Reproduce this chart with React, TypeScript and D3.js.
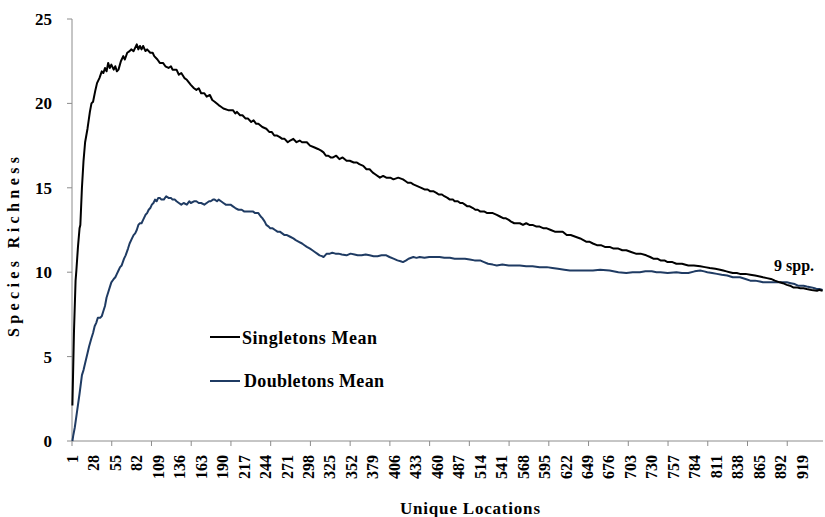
import React from "react";
import * as d3 from "d3";

// Number of unique-location categories on the x axis
const N_LOCATIONS = 945;
const xLabelStep = 27; // labels: 1, 28, 55, ...
const xTickStep = 50; // tick marks
const yTicks = [0, 5, 10, 15, 20, 25];

// [location index, mean species richness]
const singletons: [number, number][] = [
  [1, 2.1], [3, 6.5], [5, 9.5], [6, 10.1], [8, 11.5], [10, 12.6], [11, 12.8], [13, 15.0], [15, 16.6], [17, 17.7],
  [20, 18.5], [23, 19.5], [25, 20.0], [27, 20.1], [30, 20.8], [32, 21.2], [35, 21.5], [38, 21.9], [40, 21.8],
  [42, 22.1], [44, 21.9], [46, 22.4], [48, 22.1], [50, 22.3], [53, 22.0], [55, 22.2], [57, 21.9], [59, 22.0],
  [62, 22.5], [65, 22.8], [67, 22.6], [70, 23.0], [73, 23.1], [75, 23.2], [78, 23.1], [82, 23.5], [84, 23.2],
  [86, 23.4], [88, 23.2], [90, 23.4], [93, 23.1], [95, 23.2], [99, 23.0], [102, 23.0], [104, 22.8], [108, 22.6],
  [111, 22.4], [115, 22.4], [118, 22.2], [122, 22.1], [125, 22.2], [127, 22.0], [132, 22.0], [135, 21.7],
  [138, 21.8], [142, 21.5], [145, 21.4], [150, 21.1], [154, 20.9], [157, 20.8], [160, 20.9], [163, 20.6],
  [167, 20.6], [170, 20.4], [174, 20.5], [177, 20.2], [180, 20.1], [185, 19.9], [188, 19.8], [191, 19.7],
  [197, 19.6], [203, 19.6], [206, 19.4], [208, 19.5], [212, 19.3], [215, 19.3], [219, 19.1], [222, 19.1],
  [226, 18.9], [229, 19.0], [232, 18.8], [235, 18.8], [240, 18.6], [245, 18.5], [249, 18.3], [252, 18.3],
  [255, 18.1], [258, 18.1], [262, 18.0], [265, 17.9], [268, 17.9], [272, 17.7], [275, 17.8], [279, 17.9],
  [283, 17.7], [287, 17.8], [290, 17.7], [296, 17.7], [300, 17.5], [305, 17.4], [310, 17.3], [314, 17.2],
  [317, 17.1], [320, 16.9], [323, 16.9], [326, 16.8], [329, 16.8], [333, 16.9], [337, 16.7], [341, 16.8],
  [346, 16.6], [350, 16.6], [355, 16.5], [359, 16.5], [362, 16.4], [367, 16.3], [371, 16.1], [375, 16.1],
  [379, 15.9], [382, 15.8], [388, 15.6], [392, 15.7], [396, 15.6], [401, 15.6], [405, 15.5], [411, 15.6],
  [417, 15.5], [420, 15.4], [423, 15.3], [427, 15.3], [430, 15.2], [435, 15.1], [440, 15.0], [444, 14.9],
  [448, 14.9], [451, 14.8], [455, 14.8], [459, 14.7], [462, 14.6], [466, 14.6], [469, 14.5], [473, 14.4],
  [476, 14.3], [480, 14.3], [482, 14.2], [486, 14.2], [489, 14.1], [492, 14.1], [495, 14.0], [498, 13.9],
  [501, 13.9], [505, 13.8], [508, 13.7], [511, 13.7], [514, 13.6], [519, 13.6], [523, 13.5], [527, 13.5],
  [530, 13.5], [535, 13.4], [539, 13.3], [543, 13.2], [546, 13.2], [550, 13.1], [553, 13.0], [557, 12.9],
  [560, 12.9], [564, 12.9], [568, 12.8], [572, 12.9], [576, 12.8], [580, 12.8], [585, 12.7], [589, 12.7],
  [594, 12.6], [598, 12.6], [603, 12.5], [608, 12.4], [613, 12.4], [618, 12.4], [623, 12.2], [628, 12.2],
  [634, 12.1], [640, 12.0], [644, 11.9], [648, 11.8], [652, 11.8], [656, 11.7], [661, 11.6], [666, 11.6],
  [671, 11.5], [677, 11.5], [682, 11.4], [688, 11.4], [693, 11.3], [698, 11.3], [704, 11.2], [710, 11.1],
  [716, 11.1], [723, 11.0], [728, 10.9], [732, 10.8], [737, 10.8], [741, 10.7], [746, 10.7], [750, 10.6],
  [756, 10.6], [761, 10.5], [768, 10.5], [776, 10.4], [783, 10.4], [791, 10.35], [797, 10.3], [803, 10.25],
  [810, 10.2], [816, 10.15], [820, 10.1], [824, 10.05], [828, 10.0], [832, 9.95], [837, 9.95], [841, 9.9],
  [848, 9.9], [854, 9.85], [860, 9.8], [866, 9.75], [870, 9.7], [875, 9.65], [880, 9.6], [885, 9.5],
  [891, 9.4], [895, 9.35], [900, 9.25], [904, 9.2], [908, 9.1], [912, 9.1], [917, 9.05], [921, 9.05],
  [925, 9.0], [931, 8.95], [938, 8.9], [941, 8.95], [945, 8.9],
];

const doubletons: [number, number][] = [
  [1, 0], [2, 0.3], [4, 0.8], [7, 1.8], [10, 2.8], [13, 3.9], [15, 4.2], [17, 4.6], [20, 5.2], [22, 5.6],
  [25, 6.1], [27, 6.4], [29, 6.8], [31, 7.0], [33, 7.3], [36, 7.3], [38, 7.4], [40, 7.7], [42, 8.0], [44, 8.5],
  [46, 8.8], [48, 9.1], [50, 9.4], [53, 9.6], [55, 9.7], [57, 9.9], [59, 10.1], [61, 10.3], [63, 10.4],
  [66, 10.8], [68, 11.0], [71, 11.4], [73, 11.7], [76, 12.0], [78, 12.2], [80, 12.3], [82, 12.5], [84, 12.8],
  [86, 12.9], [88, 12.9], [90, 13.1], [93, 13.4], [95, 13.5], [97, 13.7], [99, 13.8], [101, 14.0], [103, 14.1],
  [105, 14.3], [107, 14.2], [109, 14.4], [111, 14.4], [113, 14.3], [116, 14.3], [119, 14.5], [122, 14.4],
  [125, 14.4], [127, 14.3], [130, 14.3], [132, 14.2], [135, 14.1], [138, 14.0], [141, 14.1], [145, 14.0],
  [148, 14.2], [150, 14.1], [154, 14.2], [157, 14.2], [160, 14.1], [163, 14.1], [167, 14.0], [170, 14.1],
  [173, 14.2], [175, 14.2], [178, 14.3], [180, 14.3], [183, 14.2], [185, 14.3], [188, 14.2], [191, 14.1],
  [194, 14.0], [197, 14.0], [200, 14.0], [203, 13.9], [206, 13.8], [210, 13.7], [214, 13.7], [217, 13.6],
  [220, 13.6], [224, 13.6], [228, 13.6], [231, 13.5], [235, 13.5], [238, 13.3], [240, 13.2], [243, 13.0],
  [245, 12.8], [248, 12.7], [250, 12.6], [253, 12.6], [256, 12.5], [259, 12.4], [262, 12.4], [265, 12.3],
  [268, 12.2], [271, 12.2], [275, 12.1], [279, 12.0], [282, 11.9], [286, 11.8], [290, 11.7], [293, 11.6],
  [296, 11.5], [300, 11.4], [303, 11.3], [306, 11.2], [309, 11.1], [312, 11.0], [315, 10.95], [317, 10.9],
  [319, 11.0], [321, 11.1], [325, 11.1], [328, 11.15], [332, 11.1], [336, 11.1], [340, 11.05], [346, 11.0],
  [351, 11.1], [356, 11.05], [360, 11.0], [365, 11.0], [370, 11.05], [375, 11.0], [380, 10.95], [385, 10.95],
  [390, 11.0], [396, 11.0], [400, 10.9], [405, 10.8], [410, 10.7], [414, 10.65], [417, 10.6], [421, 10.7],
  [424, 10.8], [430, 10.9], [434, 10.85], [438, 10.9], [444, 10.85], [450, 10.9], [456, 10.9], [463, 10.9],
  [469, 10.85], [476, 10.85], [482, 10.8], [489, 10.8], [495, 10.8], [501, 10.75], [507, 10.7], [514, 10.7],
  [519, 10.6], [524, 10.5], [530, 10.45], [535, 10.4], [542, 10.45], [550, 10.4], [557, 10.4], [564, 10.4],
  [572, 10.35], [580, 10.35], [589, 10.3], [598, 10.3], [605, 10.25], [612, 10.2], [620, 10.15], [627, 10.1],
  [634, 10.1], [640, 10.1], [648, 10.1], [656, 10.1], [665, 10.15], [677, 10.1], [688, 10.0], [698, 9.95],
  [706, 10.0], [715, 10.0], [722, 10.05], [730, 10.05], [736, 10.0], [741, 10.0], [750, 9.95], [761, 10.0],
  [768, 9.95], [776, 9.95], [784, 10.05], [791, 10.1], [796, 10.05], [800, 10.0], [806, 9.95], [812, 9.9],
  [818, 9.85], [825, 9.8], [832, 9.7], [837, 9.7], [841, 9.7], [848, 9.6], [854, 9.5], [860, 9.5], [866, 9.45],
  [870, 9.4], [875, 9.4], [882, 9.4], [891, 9.4], [896, 9.4], [900, 9.4], [905, 9.35], [910, 9.3], [914, 9.2],
  [917, 9.2], [921, 9.2], [925, 9.15], [931, 9.1], [935, 9.05], [938, 9.0], [941, 9.0], [945, 8.95],
];

const W = 825;
const H = 517;
const m = { left: 72, right: 823, top: 19, bottom: 441 };

const serif = "'Liberation Serif', 'Times New Roman', serif";
const axisColor = "#8c8c8c";
const blue = "#1f3b63";

export default function App() {
  const x = d3.scaleLinear().domain([0.5, N_LOCATIONS + 0.5]).range([m.left, m.right]);
  const y = d3.scaleLinear().domain([0, 25]).range([m.bottom, m.top]);

  const line = d3
    .line<[number, number]>()
    .x((d) => x(d[0]))
    .y((d) => y(d[1]));

  const labelCats = d3.range(1, N_LOCATIONS + 1, xLabelStep).filter((c) => c <= 919);
  const tickBounds = d3.range(0, N_LOCATIONS + 1, xTickStep);

  return (
    <svg
      width={W}
      height={H}
      style={{ position: "absolute", left: 0, top: 0, background: "#fff" }}
      fontFamily={serif}
      fontWeight="bold"
    >
      {/* axes */}
      <line x1={m.left} x2={m.left} y1={m.top} y2={m.bottom} stroke={axisColor} strokeWidth={1} />
      <line x1={m.left} x2={m.right} y1={m.bottom} y2={m.bottom} stroke={axisColor} strokeWidth={1} />
      {yTicks.map((t) => (
        <g key={"y" + t}>
          <line x1={m.left - 5} x2={m.left} y1={y(t)} y2={y(t)} stroke={axisColor} />
          <text x={52} y={y(t)} dy="0.35em" textAnchor="end" fontSize={17} fill="#000">
            {t}
          </text>
        </g>
      ))}
      {tickBounds.map((b) => (
        <line
          key={"xt" + b}
          x1={x(b + 0.5)}
          x2={x(b + 0.5)}
          y1={m.bottom}
          y2={m.bottom + 5}
          stroke={axisColor}
        />
      ))}
      {labelCats.map((c) => (
        <text
          key={"xl" + c}
          transform={`translate(${x(c)},455) rotate(-90)`}
          dy="0.35em"
          textAnchor="end"
          fontSize={16}
          fill="#000"
        >
          {c}
        </text>
      ))}

      {/* series */}
      <path d={line(doubletons) || ""} fill="none" stroke={blue} strokeWidth={2} strokeLinejoin="round" />
      <path d={line(singletons) || ""} fill="none" stroke="#000" strokeWidth={2} strokeLinejoin="round" />

      {/* annotation */}
      <text x={774} y={271} fontSize={16} fill="#000">
        9 spp.
      </text>

      {/* legend */}
      <line x1={210} x2={240} y1={337} y2={337} stroke="#000" strokeWidth={2} />
      <text x={242} y={344} fontSize={18} fill="#000" textLength={135} lengthAdjust="spacing">
        Singletons Mean
      </text>
      <line x1={210} x2={240} y1={381} y2={381} stroke={blue} strokeWidth={2} />
      <text x={244} y={387} fontSize={18} fill="#000" textLength={140} lengthAdjust="spacing">
        Doubletons Mean
      </text>

      {/* axis titles */}
      <text x={400} y={514} fontSize={17} fill="#000" textLength={140} lengthAdjust="spacing">
        Unique Locations
      </text>
      <text
        transform="translate(19,247) rotate(-90)"
        textAnchor="middle"
        fontSize={16}
        fill="#000"
        textLength={180}
        lengthAdjust="spacing"
      >
        Species Richness
      </text>
    </svg>
  );
}
